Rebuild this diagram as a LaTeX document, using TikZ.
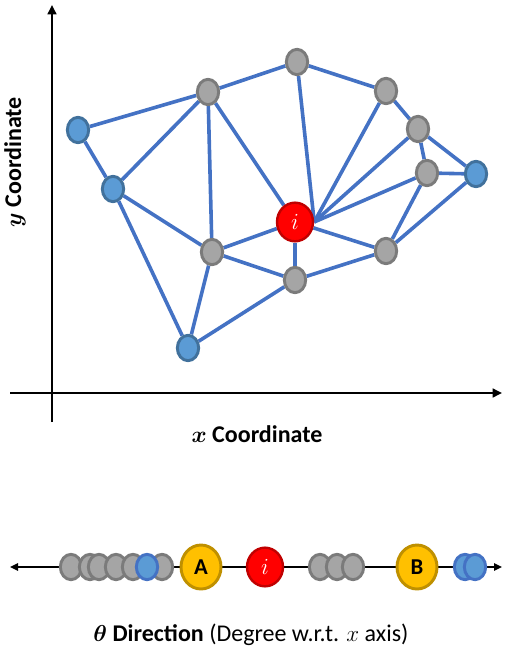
\documentclass[tikz,border=0pt]{standalone}
\usepackage{amsmath,bm}
\usepackage{fontspec}
\setmainfont{Carlito}
\usepackage{tikz}
\usetikzlibrary{arrows.meta,shapes,backgrounds}
\definecolor{linkblue}{HTML}{4472C4}
\definecolor{bluefill}{HTML}{5B9BD5}
\definecolor{blueline}{HTML}{41719C}
\definecolor{grayfill}{HTML}{A5A5A5}
\definecolor{grayline}{HTML}{7B7B7B}
\definecolor{redfill}{HTML}{FF0000}
\definecolor{redline}{HTML}{C00000}
\definecolor{goldfill}{HTML}{FFC000}
\definecolor{goldline}{HTML}{BF9000}
\tikzset{
  graydot/.style={ellipse,draw=grayline,fill=grayfill,line width=2.2pt,
                  minimum width=16pt,minimum height=19pt,inner sep=0pt},
  bluedot/.style={graydot,draw=blueline,fill=bluefill},
  seqblue/.style={graydot,draw=linkblue,fill=bluefill},
  focusdot/.style={ellipse,draw=redline,fill=redfill,line width=1.8pt,
                   minimum width=27pt,minimum height=29pt,inner sep=0pt,
                   text=white,font=\fontsize{19}{19}\selectfont},
  golddot/.style={ellipse,draw=goldline,fill=goldfill,line width=2.2pt,
                  minimum width=30pt,minimum height=33pt,inner sep=0pt,
                  font=\fontsize{17}{17}\selectfont\bfseries},
  link/.style={draw=linkblue,line width=2.7pt},
  axisarr/.style={-{Triangle[length=7pt,width=6.5pt]},line width=2.2pt},
  thetaarr/.style={{Triangle[length=6pt,width=5.5pt]}-{Triangle[length=6pt,width=5.5pt]},line width=1.6pt},
  axislabel/.style={font=\fontsize{18}{21}\selectfont\bfseries,inner sep=0pt}
}

\begin{document}
\begin{tikzpicture}[x=0.75pt,y=-0.75pt]
  \useasboundingbox (0,0) rectangle (513,666);

  % axes
  \coordinate (ybot) at (52,422);
  \coordinate (ytop) at (52,5);
  \coordinate (xleft) at (10,393);
  \coordinate (xright) at (502,393);
  \draw[axisarr] (ybot) -- (ytop);
  \draw[axisarr] (xleft) -- (xright);
  \node[axislabel] (xlab) at (257,434) {$\bm{x}$ Coordinate};
  \node[axislabel,rotate=90] (ylab) at (15,162) {$\bm{y}$ Coordinate};

  % neighbourhood graph
  \node[bluedot] (l1) at (78,130) {};
  \node[bluedot] (l2) at (113,189) {};
  \node[bluedot] (bt) at (188,348) {};
  \node[bluedot] (rt) at (476,174) {};
  \node[graydot] (g1) at (208,92) {};
  \node[graydot] (g2) at (297,62) {};
  \node[graydot] (g3) at (386,91) {};
  \node[graydot] (g4) at (418,129) {};
  \node[graydot] (g5) at (427,173) {};
  \node[graydot] (g6) at (212,252) {};
  \node[graydot] (g7) at (295,280) {};
  \node[graydot] (g8) at (386,251) {};
  \node[focusdot] (fi) at (295,222) {$i$};

  \begin{scope}[on background layer]
    \foreach \a/\b in {l1/g1,l1/l2,l2/g1,l2/g6,l2/bt,g1/g2,g1/g6,g1/fi,
                       g3/g4,g2/g3,g4/g5,g4/rt,g5/rt,g5/g8,rt/g8,
                       fi/g6,fi/g7,g6/g7,g6/bt,bt/g7,g7/g8,fi/g8} {
      \draw[link] (\a) -- (\b);
    }
    \foreach \a in {g2,g3,g4,g5} {
      \draw[link] (\a) -- (fi.east);
    }
  \end{scope}

  % theta direction
  \coordinate (tleft) at (10,567);
  \coordinate (tright) at (502,567);
  \foreach \xpos [count=\n] in {71,90,99,116,133,162} {
    \node[graydot] (lg\n) at (\xpos,567) {};
  }
  \node[seqblue] (lb) at (147,567) {};
  \node[golddot] (ta) at (201,567) {A};
  \node[focusdot] (ti) at (265,567) {$i$};
  \foreach \xpos [count=\n] in {320,337,353} {
    \node[graydot] (rg\n) at (\xpos,567) {};
  }
  \node[golddot] (tb) at (417,567) {B};
  \node[seqblue] (rb1) at (465,567) {};
  \node[seqblue] (rb2) at (475,567) {};
  \begin{scope}[on background layer]
    \draw[thetaarr] (tleft) -- (tright);
  \end{scope}
  \node[font=\fontsize{18}{21}\selectfont,inner sep=0pt] (tlab) at (251,635)
    {$\bm{\theta}$ \textbf{Direction} (Degree w.r.t. $x$ axis)};
\end{tikzpicture}
\end{document}
